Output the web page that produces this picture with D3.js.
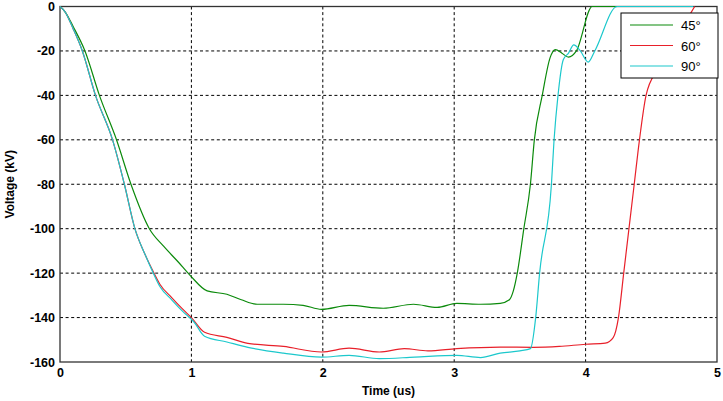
<!DOCTYPE html>
<html lang="en">
<head>
  <meta charset="UTF-8" />
  <title>Voltage vs Time</title>
  <script src="https://d3js.org/d3.v7.min.js"></script>
  <style>
    body { margin: 0; background: #fff; }
    svg { display: block; background: #fff; }
    .tick text { font-family: "Liberation Sans", Arial, sans-serif; font-weight: bold; font-size: 12.5px; fill: #000; }
    .axis-title { font-family: "Liberation Sans", Arial, sans-serif; font-weight: bold; font-size: 12px; }
    .legend text { font-family: "Liberation Sans", Arial, sans-serif; font-size: 13px; }
  </style>
</head>
<body>
  <svg width="723" height="401"></svg>
  <script>
    // 45 degrees
    const t45 = [0, 0.04, 0.1, 0.19, 0.3, 0.43, 0.54, 0.68, 0.79, 0.9, 0.99, 1.12, 1.27, 1.38, 1.5, 1.7, 1.85, 1.99, 2.2, 2.46, 2.69, 2.87, 3.02, 3.2, 3.35, 3.42, 3.45, 3.48, 3.53, 3.58, 3.61, 3.67, 3.73, 3.77, 3.82, 3.87, 3.93, 4.05, 4.3];
    const v45 = [0, -2.5, -9, -20, -40, -60, -80, -100, -108, -115, -121, -128, -129.5, -132, -134, -134, -134.5, -136.3, -134.5, -135.8, -134, -135.4, -133.6, -134, -133.6, -132, -128, -120, -100, -80, -60, -40, -23, -19.4, -21, -22.8, -20, 0, 0];
    // 60 degrees
    const t60 = [0, 0.04, 0.1, 0.17, 0.27, 0.4, 0.49, 0.57, 0.65, 0.715, 0.76, 0.85, 0.93, 1.0, 1.1, 1.27, 1.43, 1.7, 1.99, 2.2, 2.43, 2.62, 2.8, 3.02, 3.35, 3.6, 3.8, 4.0, 4.15, 4.21, 4.25, 4.29, 4.37, 4.41, 4.46, 4.55, 4.65, 4.75, 4.83];
    const v60 = [0, -2.5, -10, -20, -40, -60, -80, -100, -112, -120, -125, -131, -136, -140, -146.6, -148.9, -151.6, -153, -155.5, -153.8, -155.5, -154, -155, -154, -153.3, -153.4, -153, -152, -151.5, -149, -140, -120, -80, -60, -40, -28, -18, -8, 0];
    // 90 degrees
    const t90 = [0, 0.04, 0.1, 0.17, 0.27, 0.4, 0.49, 0.57, 0.65, 0.71, 0.76, 0.85, 0.93, 1.02, 1.1, 1.27, 1.43, 1.7, 1.99, 2.2, 2.43, 2.7, 3.02, 3.2, 3.35, 3.5, 3.58, 3.62, 3.65, 3.74, 3.76, 3.79, 3.83, 3.87, 3.91, 3.96, 4.02, 4.07, 4.24, 4.82];
    const v90 = [0, -2.5, -10, -20, -40, -60, -80, -100, -112, -120, -126, -132, -137, -142, -148.4, -151, -153.4, -156, -157.8, -157, -158.5, -157.8, -157, -158, -156, -155, -154, -140, -120, -80, -60, -40, -24, -21, -17.3, -20, -25, -20, 0, 0];

    const seriesNames = ["45°", "60°", "90°"];
    const seriesColors = ["#0b8a0b", "#e8202a", "#1cc8cc"];
    const xTicks = [0, 1, 2, 3, 4, 5];
    const yTicks = [0, -20, -40, -60, -80, -100, -120, -140, -160];

    const svg = d3.select("svg"),
          margin = { top: 6.5, right: 6, bottom: 39, left: 60 },
          width = +svg.attr("width") - margin.left - margin.right,
          height = +svg.attr("height") - margin.top - margin.bottom;

    const chart = svg.append("g")
      .attr("transform", `translate(${margin.left},${margin.top})`);

    const x = d3.scaleLinear().domain([0, 5]).range([0, width]);
    const y = d3.scaleLinear().domain([-160, 0]).range([height, 0]);

    // grid
    chart.append("g")
      .selectAll("line")
      .data(xTicks.slice(1, -1))
      .enter().append("line")
      .attr("x1", d => x(d)).attr("x2", d => x(d))
      .attr("y1", 0).attr("y2", height)
      .attr("stroke", "#000").attr("stroke-dasharray", "3,2.6");

    chart.append("g")
      .selectAll("line")
      .data(yTicks.slice(1, -1))
      .enter().append("line")
      .attr("y1", d => y(d)).attr("y2", d => y(d))
      .attr("x1", 0).attr("x2", width)
      .attr("stroke", "#000").attr("stroke-dasharray", "3,2.6");

    // axes (plain hyphen for negatives, as in the original)
    const fmt = d => String(d);
    const xAxis = chart.append("g")
      .attr("transform", `translate(0,${height})`)
      .call(d3.axisBottom(x).tickValues(xTicks).tickSize(0).tickPadding(6).tickFormat(fmt));
    const yAxis = chart.append("g")
      .call(d3.axisLeft(y).tickValues(yTicks).tickSize(0).tickPadding(5).tickFormat(fmt));
    xAxis.select(".domain").remove();
    yAxis.select(".domain").remove();

    chart.append("rect")
      .attr("width", width).attr("height", height)
      .attr("fill", "none").attr("stroke", "#333").attr("stroke-width", 1.3);

    // lines
    chart.append("clipPath").attr("id", "clip")
      .append("rect").attr("x", 0).attr("y", -1).attr("width", width).attr("height", height + 1);

    const line = d3.line().curve(d3.curveMonotoneX).x(d => x(d[0])).y(d => y(d[1]));
    const series = [d3.zip(t45, v45), d3.zip(t60, v60), d3.zip(t90, v90)];

    chart.append("g").attr("clip-path", "url(#clip)")
      .selectAll("path")
      .data(series)
      .enter().append("path")
      .attr("d", line)
      .attr("fill", "none")
      .attr("stroke", (d, i) => seriesColors[i])
      .attr("stroke-width", 1.2);

    // axis titles
    svg.append("text").attr("class", "axis-title")
      .attr("x", margin.left + width / 2).attr("y", 395)
      .attr("text-anchor", "middle").text("Time (us)");
    svg.append("text").attr("class", "axis-title")
      .attr("transform", `translate(14,${margin.top + height / 2}) rotate(-90)`)
      .attr("text-anchor", "middle").text("Voltage (kV)");

    // legend
    const legend = svg.append("g").attr("class", "legend").attr("transform", "translate(621,13)");
    legend.append("rect").attr("width", 97).attr("height", 65)
      .attr("fill", "#fff").attr("stroke", "#000");
    seriesNames.forEach((name, i) => {
      const ly = 12 + i * 20.5;
      legend.append("line").attr("x1", 9).attr("x2", 52).attr("y1", ly).attr("y2", ly)
        .attr("stroke", seriesColors[i]).attr("stroke-width", 1.2);
      legend.append("text").attr("x", 60).attr("y", ly + 5).text(name);
    });
  </script>
</body>
</html>
